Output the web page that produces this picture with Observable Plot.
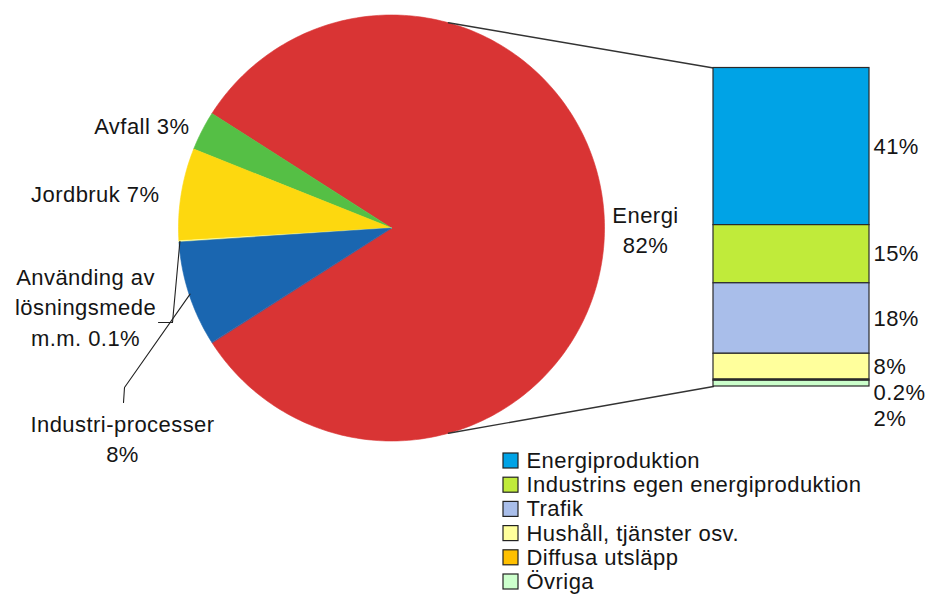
<!DOCTYPE html>
<html><head><meta charset="utf-8">
<script src="https://cdn.jsdelivr.net/npm/d3@7"></script>
<script src="https://cdn.jsdelivr.net/npm/@observablehq/plot@0.6"></script>
<style>body{margin:0;background:#fff;} svg{display:block}</style>
</head><body><div id="chart"></div>
<script>
// ---- data ----
const pieNames = ["Energi", "Avfall", "Jordbruk", "Använding av\nlösningsmede\nm.m.", "Industri-processer"];
const pieValues = [82, 3, 7, 0.1, 8];
const pieColors = ["#d93434", "#55bf45", "#fdd80f", "#ffff99", "#1a66b0"];

const barNames = ["Energiproduktion", "Industrins egen energiproduktion", "Trafik", "Hushåll, tjänster osv.", "Diffusa utsläpp", "Övriga"];
const barValues = [40.8, 15.1, 18.3, 6.7, 0.3, 1.5];
const barLabels = ["41%", "15%", "18%", "8%", "0.2%", "2%"];
const barColors = ["#00a3e6", "#c0eb3a", "#a9beea", "#ffff9c", "#ffc000", "#ccffcc"];

// ---- layout ----
const W = 934, H = 596;
const cx = 391, cy = 227.5, R = 213;
const barX1 = 713, barX2 = 869, barTop = 67.5, barBottom = 386;
const connectorAngle = 74.5 * Math.PI / 180;
const pieLabelSep = ["\n", " ", " ", " ", "\n"];
const pieLabelPos = [
  {x: 645, y: 228, anchor: "middle"},
  {x: 189, y: 124, anchor: "end"},
  {x: 159, y: 192, anchor: "end"},
  {x: 85, y: 305, anchor: "middle"},
  {x: 122, y: 437, anchor: "middle"}
];
const leaderBends = {3: [[172, 322], [158, 322]], 4: [[124, 387], [123, 402]]};

const pt = (a, r) => [cx + r * Math.cos(a), cy - r * Math.sin(a)];

// pie slices
const total = d3.sum(pieValues);
let cum = -Math.PI * pieValues[0] / total;
const slices = pieValues.map((v, i) => {
  const a0 = cum, a1 = cum + 2 * Math.PI * v / total;
  cum = a1;
  const n = Math.max(2, Math.ceil((a1 - a0) * 180 / Math.PI));
  const pts = [[cx, cy]];
  for (let k = 0; k <= n; k++) pts.push(pt(a0 + (a1 - a0) * k / n, R));
  return {i, a0, a1, mid: (a0 + a1) / 2, pts, color: pieColors[i]};
});

const pieLabelData = pieNames.map((n, i) => ({
  text: `${n}${pieLabelSep[i]}${pieValues[i]}%`,
  ...pieLabelPos[i]
}));

// leader lines
const leaders = Object.entries(leaderBends).map(([i, bends]) =>
  [pt(slices[+i].mid, R - 1), ...bends]);

// bar segments
const barTotal = d3.sum(barValues);
const k = (barBottom - barTop) / barTotal;
let bc = 0;
const segs = barValues.map((v, i) => {
  const y1 = barTop + bc * k; bc += v;
  const y2 = barTop + bc * k;
  return {i, y1, y2, color: barColors[i], label: barLabels[i], name: barNames[i]};
});
let prevY = -Infinity;
segs.forEach(s => {
  const c = (s.y1 + s.y2) / 2;
  s.ly = Math.max(c, prevY + 26);
  prevY = s.ly;
});

// connectors
const connectors = [
  [pt(connectorAngle, R), [barX1, barTop]],
  [pt(-connectorAngle, R), [barX1, barBottom]]
];

// legend
const legX = 503, legSw = 15, legY0 = 460.5, legDy = 24.2;
const legend = barNames.map((n, i) => ({name: n, color: barColors[i], y: legY0 + i * legDy}));

const font = "'Liberation Sans', Arial, sans-serif";
const textFill = "#151515";

const chart = Plot.plot({
  width: W, height: H, margin: 0,
  x: {domain: [0, W], range: [0, W], axis: null},
  y: {domain: [0, H], range: [0, H], axis: null},
  style: {fontFamily: font, background: "white", letterSpacing: "0.45px"},
  marks: [
    ...slices.map(s => Plot.line(s.pts, {
      x: d => d[0], y: d => d[1], curve: "linear-closed",
      fill: s.color, stroke: s.color, strokeWidth: 0.6
    })),
    ...connectors.map(c => Plot.line(c, {x: d => d[0], y: d => d[1], stroke: "#333", strokeWidth: 1.4})),
    ...leaders.map(l => Plot.line(l, {x: d => d[0], y: d => d[1], stroke: "#222", strokeWidth: 1.1})),
    Plot.rect(segs, {x1: barX1, x2: barX2, y1: "y1", y2: "y2", fill: "color", stroke: "#2a2a2a", strokeWidth: 1.2}),
    Plot.text(segs, {x: barX2 + 4, y: "ly", text: "label", textAnchor: "start", fontSize: 22, fill: textFill}),
    ...["start", "middle", "end"].map(a => Plot.text(pieLabelData.filter(d => d.anchor === a), {
      x: "x", y: "y", text: "text", textAnchor: a, fontSize: 22, lineHeight: 1.38, fill: textFill
    })),
    Plot.rect(legend, {x1: legX, x2: legX + legSw, y1: d => d.y - legSw / 2, y2: d => d.y + legSw / 2, fill: "color", stroke: "#222", strokeWidth: 1.2}),
    Plot.text(legend, {x: legX + legSw + 8, y: "y", text: "name", textAnchor: "start", fontSize: 22, fill: textFill})
  ]
});
document.getElementById("chart").appendChild(chart);
</script>
</body></html>
